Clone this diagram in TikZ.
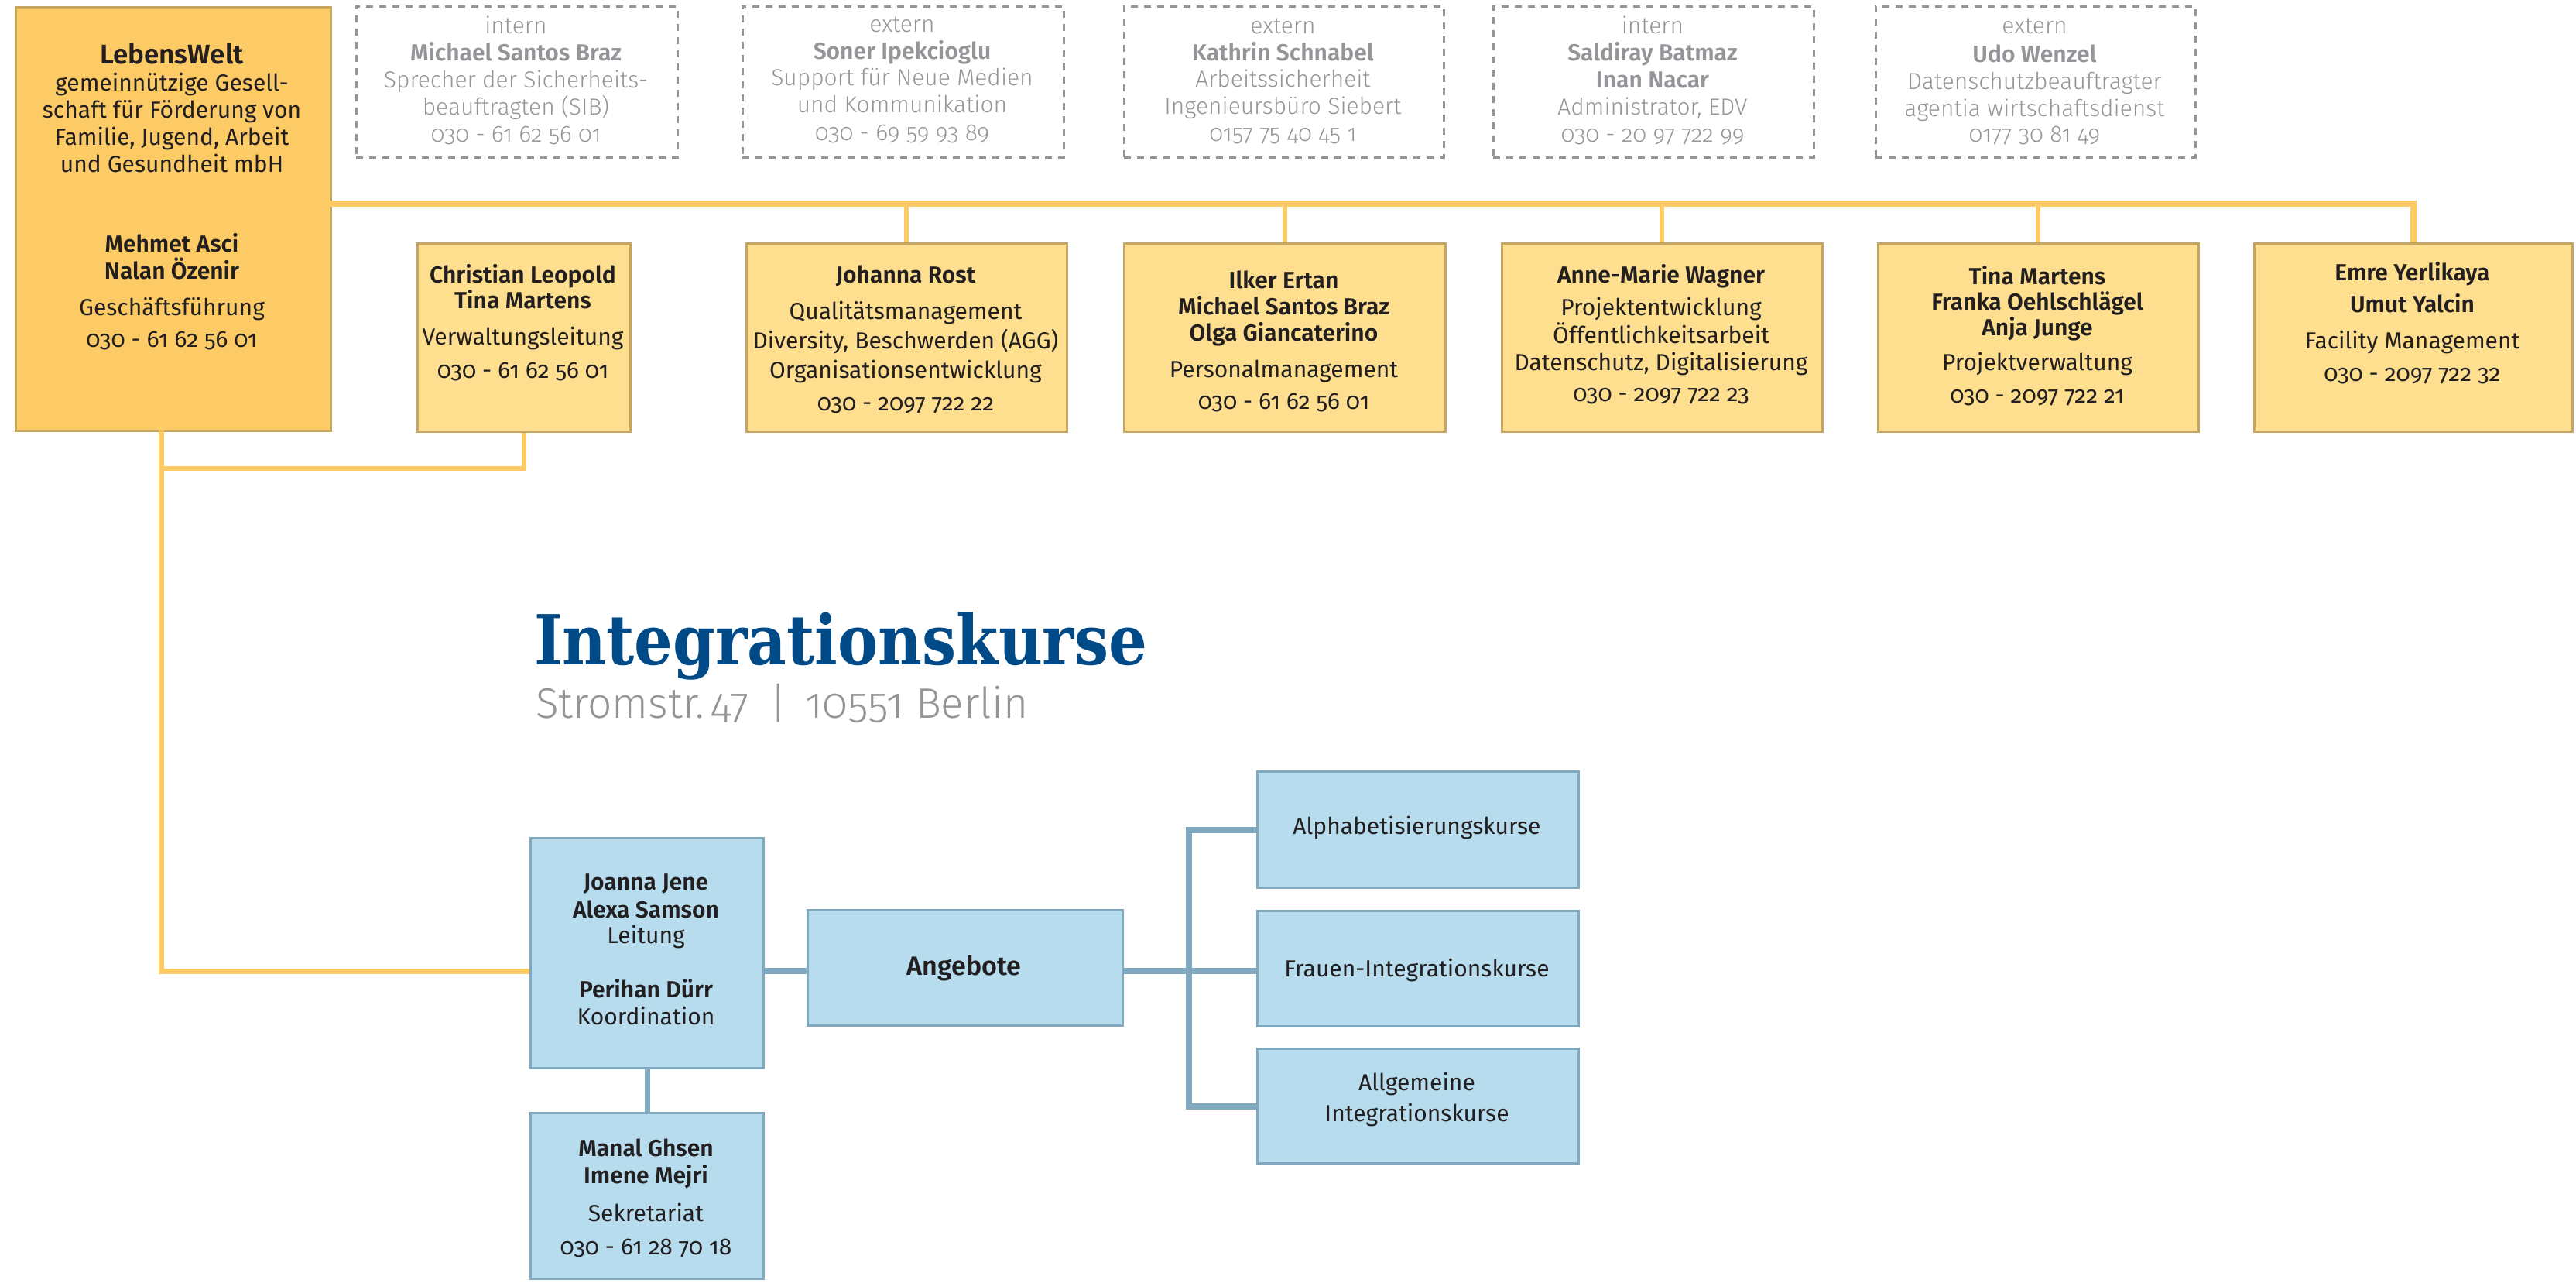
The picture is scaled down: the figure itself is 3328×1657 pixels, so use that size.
\documentclass[tikz,border=0pt]{standalone}
\usepackage{fontspec}
\IfFontExistsTF{Fira Sans Book}{\newcommand\myUp{Fira Sans Book}}{\newcommand\myUp{Fira Sans}}
\IfFontExistsTF{Fira Sans SemiBold}
  {\setmainfont{\myUp}[Numbers=OldStyle,BoldFont={Fira Sans SemiBold}]}
  {\setmainfont{Fira Sans}[Numbers=OldStyle]}
\IfFontExistsTF{Fira Sans Light}
  {\newfontfamily\lightf{Fira Sans Light}[Numbers=OldStyle]}
  {\newfontfamily\lightf{Fira Sans}[Numbers=OldStyle]}
\newfontfamily\titlefont{DejaVu Serif}[FakeStretch=0.88]
\usetikzlibrary{calc}
\definecolor{goldA}{HTML}{FDCB65}
\definecolor{goldB}{HTML}{FDDF8F}
\definecolor{goldE}{HTML}{C6A65E}
\definecolor{ylw}{HTML}{FDCB65}
\definecolor{blueF}{HTML}{B6DCEE}
\definecolor{blueE}{HTML}{80A8BF}
\definecolor{titleblue}{HTML}{004A87}
\definecolor{greyT}{HTML}{939598}
\definecolor{darkT}{HTML}{231F20}
\newcommand\ftN{\color{darkT}}
\newcommand\ftB{\color{darkT}\bfseries}
\newcommand\ftGN{\color{greyT}\lightf}
\newcommand\ftGB{\color{greyT}\bfseries}
\newcommand\ftBig{\color{darkT}\fontsize{35}{40}\selectfont\bfseries}
\newcommand\ftAng{\color{darkT}\fontsize{34}{40}\selectfont\bfseries}
\newcommand\boxlines[3]{\foreach \yy/\ff/\lt [count=\ii] in {#3}{\node[tl] (#1-\ii) at (#2,\yy) {\ff\lt};}}
\begin{document}
\begin{tikzpicture}[x=1pt,y=-1pt,
  tl/.style={inner sep=0pt, anchor=base, font=\fontsize{30}{35}\selectfont},
  boxbase/.style={rectangle, inner sep=0pt, anchor=north west},
  goldmain/.style={boxbase, fill=goldA, draw=goldE, line width=2.5pt},
  goldbox/.style={boxbase, fill=goldB, draw=goldE, line width=2.5pt},
  dashbox/.style={boxbase, draw=greyT, line width=2.5pt, dash pattern=on 9pt off 8pt},
  bluebox/.style={boxbase, fill=blueF, draw=blueE, line width=3pt},
  yline/.style={draw=ylw, line width=8pt},
  ydrop/.style={draw=ylw, line width=6pt},
  bline/.style={draw=blueE, line width=8pt},
]
\useasboundingbox (0,0) rectangle (3328,1657);

% ---------- top gold main box ----------
\node[goldmain, minimum width=407pt, minimum height=547pt] (gf) at (19,8) {};
\boxlines{gft}{222}{82/\ftBig/LebensWelt, 117/\ftN/gemeinnützige Gesell-, 152/\ftN/schaft für Förderung von,
  187/\ftN/{Familie, Jugend, Arbeit}, 222/\ftN/und Gesundheit mbH, 325/\ftB/Mehmet Asci, 360/\ftB/Nalan Özenir,
  407/\ftN/Geschäftsführung, 448/\ftN/030 - 61 62 56 01}

% ---------- dashed boxes ----------
\node[dashbox, minimum width=415pt, minimum height=195pt] (d1) at (459,7) {};
\node[dashbox, minimum width=415pt, minimum height=195pt] (d2) at (958,7) {};
\node[dashbox, minimum width=413pt, minimum height=195pt] (d3) at (1451,7) {};
\node[dashbox, minimum width=414pt, minimum height=195pt] (d4) at (1928,7) {};
\node[dashbox, minimum width=413pt, minimum height=195pt] (d5) at (2422,7) {};
\boxlines{d1t}{666.5}{43/\ftGN/intern, 78/\ftGB/Michael Santos Braz, 113/\ftGN/Sprecher der Sicherheits-,
  148/\ftGN/beauftragten (SIB), 183/\ftGN/030 - 61 62 56 01}
\boxlines{d2t}{1165.5}{41/\ftGN/extern, 76/\ftGB/Soner Ipekcioglu, 110/\ftGN/Support für Neue Medien,
  145/\ftGN/und Kommunikation, 181/\ftGN/030 - 69 59 93 89}
\boxlines{d3t}{1657.5}{43/\ftGN/extern, 78/\ftGB/Kathrin Schnabel, 112/\ftGN/Arbeitssicherheit,
  147/\ftGN/Ingenieursbüro Siebert, 182/\ftGN/0157 75 40 45 1}
\boxlines{d4t}{2135}{43/\ftGN/intern, 78/\ftGB/Saldiray Batmaz, 113/\ftGB/Inan Nacar,
  148/\ftGN/{Administrator, EDV}, 183/\ftGN/030 - 20 97 722 99}
\boxlines{d5t}{2628.5}{43/\ftGN/extern, 80/\ftGB/Udo Wenzel, 115/\ftGN/Datenschutzbeauftragter,
  150/\ftGN/agentia wirtschaftsdienst, 183/\ftGN/0177 30 81 49}

% ---------- second row gold boxes ----------
\node[goldbox, minimum width=275pt, minimum height=243pt] (chr) at (538,313) {};
\node[goldbox, minimum width=414pt, minimum height=243pt] (joh) at (963,313) {};
\node[goldbox, minimum width=415pt, minimum height=243pt] (ilk) at (1451,313) {};
\node[goldbox, minimum width=414pt, minimum height=243pt] (ann) at (1939,313) {};
\node[goldbox, minimum width=414pt, minimum height=243pt] (tin) at (2425,313) {};
\node[goldbox, minimum width=411pt, minimum height=243pt] (emr) at (2911,313) {};
\boxlines{chrt}{675.5}{365/\ftB/Christian Leopold, 398/\ftB/Tina Martens, 445/\ftN/Verwaltungsleitung,
  488/\ftN/030 - 61 62 56 01}
\boxlines{joht}{1170}{365/\ftB/Johanna Rost, 412/\ftN/Qualitätsmanagement, 450/\ftN/{Diversity, Beschwerden (AGG)},
  488/\ftN/Organisationsentwicklung, 530/\ftN/030 - 2097 722 22}
\boxlines{ilkt}{1658.5}{372/\ftB/Ilker Ertan, 406/\ftB/Michael Santos Braz, 440/\ftB/Olga Giancaterino,
  487/\ftN/Personalmanagement, 528/\ftN/030 - 61 62 56 01}
\boxlines{annt}{2146}{365/\ftB/Anne-Marie Wagner, 407/\ftN/Projektentwicklung, 443/\ftN/Öffentlichkeitsarbeit,
  478/\ftN/{Datenschutz, Digitalisierung}, 518/\ftN/030 - 2097 722 23}
\boxlines{tint}{2632}{367/\ftB/Tina Martens, 400/\ftB/Franka Oehlschlägel, 433/\ftB/Anja Junge,
  478/\ftN/Projektverwaltung, 520/\ftN/030 - 2097 722 21}
\boxlines{emrt}{3116.5}{362/\ftB/Emre Yerlikaya, 403/\ftB/Umut Yalcin, 450/\ftN/Facility Management,
  492/\ftN/030 - 2097 722 32}

% ---------- yellow connectors ----------
\coordinate (bus) at (426,263);
\draw[yline] (bus) -| (emr.north);
\foreach \b in {joh,ilk,ann,tin} {\draw[ydrop] (\b.north) -- (\b.north |- bus);}
\coordinate (gfb) at (208,555);
\coordinate (jn) at (208,605);
\coordinate (lvl) at (0,1254);

% ---------- title ----------
\node[anchor=base west, inner sep=0pt, font=\titlefont\bfseries\fontsize{89}{92}\selectfont, text=titleblue] (title) at (690,858) {Integrationskurse};
\node[anchor=base west, inner sep=0pt, font=\lightf\fontsize{55}{60}\selectfont, text=greyT] (sub) at (692,927) {Stromstr.\,47\hspace{26pt}|\hspace{24pt}10551 Berlin};

% ---------- blue boxes ----------
\node[bluebox, minimum width=301pt, minimum height=297pt] (leit) at (684,1081) {};
\node[bluebox, minimum width=407pt, minimum height=149pt] (ang) at (1042,1174) {};
\node[bluebox, minimum width=301pt, minimum height=214pt] (man) at (684,1436) {};
\node[bluebox, minimum width=415pt, minimum height=150pt] (alp) at (1623,995) {};
\node[bluebox, minimum width=415pt, minimum height=149pt] (fra) at (1623,1175) {};
\node[bluebox, minimum width=415pt, minimum height=148pt] (allg) at (1623,1353) {};
\boxlines{leitt}{834.5}{1149/\ftB/Joanna Jene, 1185/\ftB/Alexa Samson, 1218/\ftN/Leitung,
  1288/\ftB/Perihan Dürr, 1323/\ftN/Koordination}
\boxlines{angt}{1245.5}{1259/\ftAng/Angebote}
\boxlines{mant}{834.5}{1493/\ftB/Manal Ghsen, 1528/\ftB/Imene Mejri, 1577/\ftN/Sekretariat,
  1620/\ftN/030 - 61 28 70 18}
\boxlines{alpt}{1830.5}{1077/\ftN/Alphabetisierungskurse}
\boxlines{frat}{1830.5}{1261/\ftN/Frauen-Integrationskurse}
\boxlines{allgt}{1830.5}{1408/\ftN/Allgemeine, 1448/\ftN/Integrationskurse}

% ---------- lower connectors ----------
\draw[draw=ylw, line width=7pt] (gfb) |- (leit.west |- lvl);
\draw[draw=ylw, line width=6pt] (chr.south) |- (jn);
\draw[bline] (leit.east |- lvl) -- (ang.west |- lvl);
\coordinate (brk) at (1536,1254);
\draw[bline] (ang.east |- lvl) -- (fra.west |- lvl);
\draw[bline] (alp.west) -| (brk) |- (allg.west);
\draw[draw=blueE, line width=7pt] (leit.south) -- (man.north);
\end{tikzpicture}
\end{document}
